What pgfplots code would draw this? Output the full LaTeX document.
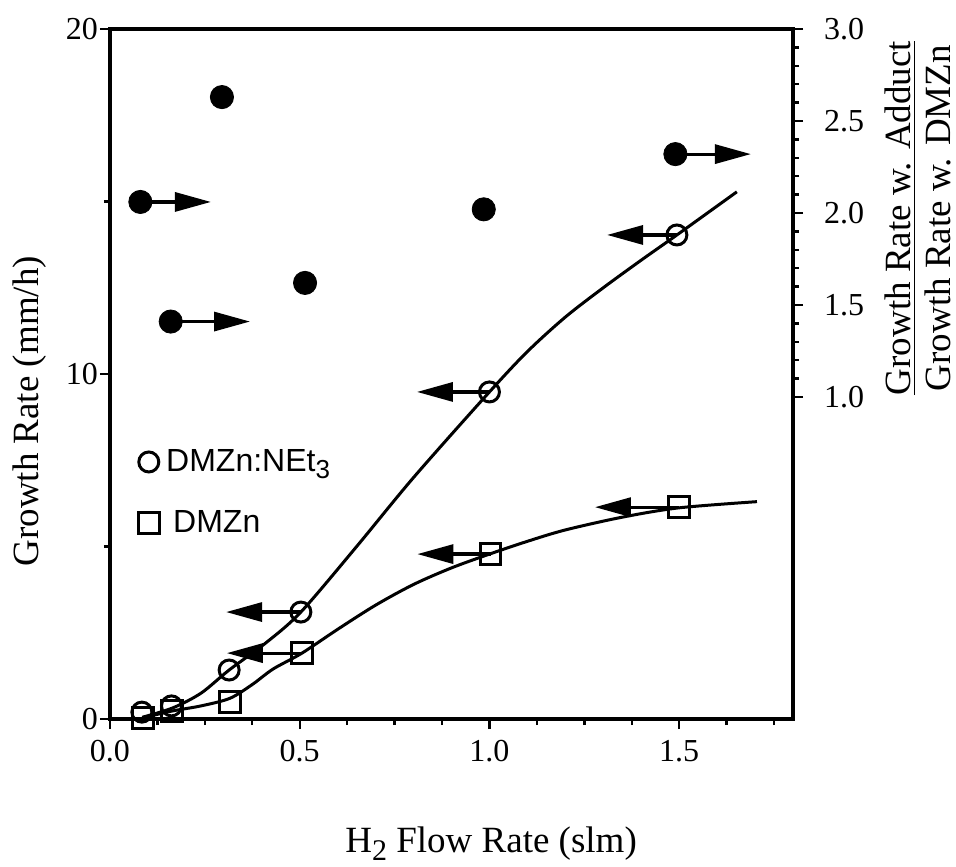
\documentclass[border=0pt]{standalone}
\usepackage{fontspec}
\setmainfont{Liberation Serif}
\newfontfamily\hv{Liberation Sans}
\usepackage{pgfplots}
\pgfplotsset{compat=1.18}
\usetikzlibrary{arrows.meta}

\tikzset{
  toaxis/.style={line width=1.6pt, -{Triangle[length=18pt,width=9.5pt]}},
}
\pgfplotsset{
  common/.style={
    scale only axis, width=341.5pt, height=345pt,
    at={(0,0)}, anchor=south west,
    xmin=0, xmax=1.8,
    tick align=outside,
    major tick length=5pt, minor tick length=3pt,
    every tick/.style={black, line width=1.2pt},
    axis line style={-, line width=1.6pt},
    ticklabel style={font=\fontsize{16}{16}\selectfont},
    /pgf/number format/assume math mode=true,
    clip=false,
  },
}

\begin{document}
\begin{tikzpicture}
\path[use as bounding box] (-55pt,-73.5pt) rectangle (423pt,359.5pt);

% growth rates, left scale
\begin{axis}[common,
  ymin=0, ymax=20,
  xtick={0,0.5,1,1.5}, xticklabels={0.0,0.5,1.0,1.5},
  minor xtick={0.125,0.25,0.375,0.625,0.75,0.875,1.125,1.25,1.375,1.625,1.75},
  ytick={0,10,20}, minor ytick={5,15},
  xtick pos=bottom, ytick pos=left,
  xticklabel style={yshift=-2pt},
  yticklabel style={xshift=2.5pt},
  legend style={at={(rel axis cs:0.041,0.397)}, anchor=north west,
    draw=none, fill=none, inner sep=0pt, row sep=14pt,
    font=\hv\fontsize{16}{16}\selectfont},
  legend cell align=left,
  legend image code/.code={\draw[#1] plot coordinates {(0.1cm,0cm)};},
]
% fitted curves
\addplot[smooth, line width=1.5pt, forget plot] coordinates {
  (0.085,0.05) (0.165,0.32) (0.24,0.75) (0.314,1.42) (0.41,2.2)
  (0.503,3.1) (0.65,5.0) (0.8,7.0) (1.0,9.48) (1.1,10.65) (1.2,11.65)
  (1.3,12.5) (1.4,13.3) (1.494,14.03) (1.652,15.28)};
\addplot[smooth, line width=1.5pt, forget plot] coordinates {
  (0.085,0.03) (0.163,0.23) (0.24,0.38) (0.316,0.6) (0.375,1.0) (0.43,1.45)
  (0.506,1.91) (0.6,2.6) (0.7,3.3) (0.8,3.9) (0.9,4.38) (1.0,4.78)
  (1.1,5.15) (1.2,5.48) (1.35,5.85) (1.499,6.12) (1.705,6.3)};
% arrows pointing to the left scale
\addplot[toaxis, forget plot] coordinates {(0.503,3.1) (0.306,3.1)};
\addplot[toaxis, forget plot] coordinates {(0.506,1.91) (0.308,1.91)};
\addplot[toaxis, forget plot] coordinates {(1.0,9.48) (0.809,9.48)};
\addplot[toaxis, forget plot] coordinates {(1.003,4.78) (0.81,4.78)};
\addplot[toaxis, forget plot] coordinates {(1.494,14.03) (1.31,14.03)};
\addplot[toaxis, forget plot] coordinates {(1.499,6.14) (1.278,6.14)};
% measured points
\addplot[only marks, mark=o, mark size=5pt, mark options={line width=1.5pt}] coordinates {
  (0.084,0.2) (0.162,0.38) (0.314,1.42) (0.503,3.1) (1.0,9.48) (1.494,14.03)};
\addlegendentry{\hspace{1.5pt}DMZn:NEt\raisebox{-0.4ex}{\fontsize{13}{13}\selectfont 3}}
\addplot[only marks, mark=square, mark size=5.2pt, mark options={line width=1.5pt}] coordinates {
  (0.087,0.03) (0.163,0.23) (0.316,0.49) (0.506,1.91) (1.003,4.78) (1.499,6.14)};
\addlegendentry{\hspace{5pt}DMZn}

\node[rotate=90, font=\fontsize{18.5}{20}\selectfont]
  at (rel axis cs:-0.117,0.446) {Growth Rate (mm/h)};
\node[anchor=base, font=\fontsize{18.5}{20}\selectfont]
  at (rel axis cs:0.558,-0.193)
  {H\raisebox{-0.5ex}{\fontsize{15}{15}\selectfont 2} Flow Rate (slm)};
\end{axis}

% growth rate ratio, right scale
\begin{axis}[common,
  ymin=-0.75, ymax=3,
  axis x line=none, axis y line*=right,
  ytick={1,1.5,2,2.5,3}, yticklabels={1.0,1.5,2.0,2.5,3.0},
  minor ytick={1.1,1.2,1.3,1.4,1.6,1.7,1.8,1.9,2.1,2.2,2.3,2.4,2.6,2.7,2.8,2.9},
  ytick pos=right,
  yticklabel style={xshift=7pt},
]
\addplot[toaxis] coordinates {(0.08,2.06) (0.266,2.06)};
\addplot[toaxis] coordinates {(0.16,1.41) (0.369,1.41)};
\addplot[toaxis] coordinates {(1.49,2.32) (1.689,2.32)};
\addplot[only marks, mark=*, mark size=5.8pt, mark options={fill=black}] coordinates {
  (0.08,2.06) (0.16,1.41) (0.295,2.63) (0.514,1.62) (0.985,2.02) (1.49,2.32)};

\node[rotate=90, align=center, font=\fontsize{18.5}{20}\selectfont]
  at (rel axis cs:1.183,0.726)
  {\underline{Growth Rate w. Adduct}\\Growth Rate w. DMZn};
\end{axis}
\end{tikzpicture}
\end{document}
